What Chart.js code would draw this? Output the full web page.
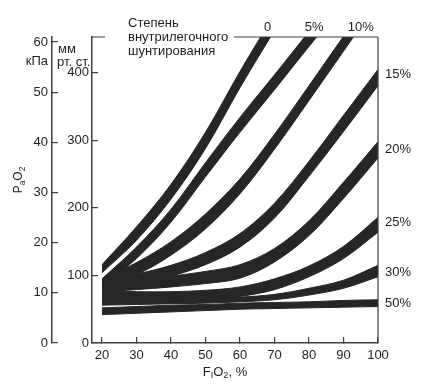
<!DOCTYPE html>
<html>
<head>
<meta charset="utf-8">
<script src="https://cdn.jsdelivr.net/npm/chart.js@4.4.1/dist/chart.umd.min.js"></script>
<style>
  html, body { margin: 0; padding: 0; background: #fff; }
  #wrap { width: 428px; height: 388px; }
</style>
</head>
<body>
<div id="wrap"><canvas id="shuntChart" width="428" height="388"></canvas></div>
<script>
// FiO2, % (x axis)
const fio2 = [20, 30, 40, 50, 60, 70, 80, 90, 100];

// PaO2 bands, mm Hg: upper and lower edge for every shunt fraction
const upper0  = [116, 172, 235, 312, 402, 487];
const lower0  = [104, 152, 213, 288, 378, 463];
const upper5  = [ 95, 142, 198, 267, 334, 397, 461, 524];
const lower5  = [ 84, 125, 179, 246, 312, 375, 439, 502];
const upper10 = [ 94, 119, 150, 191, 243, 309, 381, 454, 527];
const lower10 = [ 82, 101, 130, 169, 221, 287, 359, 432, 505];
const upper15 = [ 92, 102, 115, 134, 162, 207, 269, 337, 405];
const lower15 = [ 80,  88,  99, 116, 142, 185, 247, 313, 381];
const upper20 = [ 90,  93,  99, 106, 116, 140, 181, 238, 298];
const lower20 = [ 76,  79,  83,  88,  96, 120, 159, 214, 274];
const upper25 = [ 78,  76,  76,  78,  83,  95, 114, 143, 186];
const lower25 = [ 64,  62,  62,  64,  69,  79,  98, 125, 164];
const upper30 = [ 67,  66,  66,  67,  68,  72,  81,  93, 115];
const lower30 = [ 56,  57,  58,  59,  61,  64,  71,  81,  98];
const upper50 = [ 52,  54,  56,  57,  59,  60,  61,  63,  64];
const lower50 = [ 42,  44,  46,  48,  50,  51,  52,  53,  54];

const shuntNames = ['0', '5%', '10%', '15%', '20%', '25%', '30%', '50%'];
// where each name sits: FiO2 for the ones on top, PaO2 for the ones on the right
const topLabelAt = [68, 81.5, 95];
const sideLabelAt = [397, 286, 178, 105, 58];

const mmTicks = [0, 100, 200, 300, 400];
const kpaTicks = [0, 10, 20, 30, 40, 50, 60];
const fio2Ticks = [20, 30, 40, 50, 60, 70, 80, 90, 100];

const bandUpper = [upper0, upper5, upper10, upper15, upper20, upper25, upper30, upper50];
const bandLower = [lower0, lower5, lower10, lower15, lower20, lower25, lower30, lower50];

const ink = '#262626';
const axisColor = '#3a3f4a';
const FONT = 'Liberation Sans, Arial, sans-serif';

const datasets = [];
bandUpper.forEach((up, i) => {
  const pts = arr => arr.map((v, j) => ({ x: fio2[j], y: v }));
  datasets.push({
    label: shuntNames[i],
    data: pts(up),
    borderColor: ink,
    backgroundColor: ink,
    borderWidth: 1,
    pointRadius: 0,
    tension: 0.35,
    fill: '+1'
  });
  datasets.push({
    label: shuntNames[i] + ' low',
    data: pts(bandLower[i]),
    borderColor: ink,
    borderWidth: 1,
    pointRadius: 0,
    tension: 0.35,
    fill: false
  });
});

// draws text pieces, some of them as subscripts
function drawParts(ctx, parts, x, y, size) {
  let w = 0;
  parts.forEach(([t, sub]) => {
    ctx.font = (sub ? size * 0.7 : size) + 'px ' + FONT;
    w += ctx.measureText(t).width;
  });
  let cx = x - w / 2;
  parts.forEach(([t, sub]) => {
    ctx.font = (sub ? size * 0.7 : size) + 'px ' + FONT;
    ctx.fillText(t, cx, sub ? y + size * 0.3 : y);
    cx += ctx.measureText(t).width;
  });
}

const decor = {
  id: 'decor',
  afterDraw(chart) {
    const { ctx, chartArea: a, scales } = chart;
    ctx.save();
    ctx.fillStyle = '#1e1e1e';
    ctx.textBaseline = 'middle';

    // heading in the gap of the top line
    ctx.font = '13px ' + FONT;
    ctx.textAlign = 'left';
    const hx = a.left + 36;
    ctx.fillText('Степень', hx, a.top - 14);
    ctx.fillText('внутрилегочного', hx, a.top);
    ctx.fillText('шунтирования', hx, a.top + 14);
    const gapEnd = hx + ctx.measureText('внутрилегочного').width + 6;

    ctx.strokeStyle = axisColor;
    ctx.lineWidth = 1.2;
    ctx.beginPath();
    ctx.moveTo(a.left, a.top); ctx.lineTo(a.left + 13, a.top);
    ctx.moveTo(gapEnd, a.top); ctx.lineTo(a.right, a.top);
    ctx.moveTo(a.right, a.top); ctx.lineTo(a.right, a.bottom);
    ctx.stroke();

    // shunt names
    ctx.textAlign = 'center';
    topLabelAt.forEach((f, i) => {
      ctx.fillText(shuntNames[i], scales.x.getPixelForValue(f), a.top - 10);
    });
    ctx.textAlign = 'left';
    sideLabelAt.forEach((p, i) => {
      ctx.fillText(shuntNames[i + 3], a.right + 7, scales.y.getPixelForValue(p));
    });

    // units
    ctx.textAlign = 'right';
    ctx.fillText('кПа', 48, 61);
    ctx.textAlign = 'left';
    ctx.fillText('мм', 58, 49);
    ctx.fillText('рт. ст.', 57, 62);

    // axis titles
    ctx.textAlign = 'left';
    drawParts(ctx, [['F', false], ['I', true], ['O', false], ['2', true], [', %', false]], 225, 372, 13);
    ctx.translate(19, 180);
    ctx.rotate(-Math.PI / 2);
    drawParts(ctx, [['P', false], ['a', true], ['O', false], ['2', true]], 0, 0, 12);
    ctx.restore();
  }
};

const tickStyle = { color: '#1e1e1e', font: { family: FONT, size: 13 } };

new Chart(document.getElementById('shuntChart'), {
  type: 'line',
  data: { datasets },
  plugins: [decor],
  options: {
    responsive: false,
    animation: false,
    devicePixelRatio: 1,
    layout: { padding: { top: 37, right: 50, bottom: 0, left: 0 } },
    plugins: { legend: { display: false }, tooltip: { enabled: false } },
    scales: {
      x: {
        type: 'linear',
        min: 17.1,
        max: 100,
        afterFit: s => { s.height = 45; },
        afterBuildTicks: s => { s.ticks = fio2Ticks.map(v => ({ value: v })); },
        ticks: { ...tickStyle, padding: 11, maxRotation: 0 },
        grid: { drawOnChartArea: false, tickLength: -6, color: axisColor, lineWidth: 1.2 },
        border: { color: axisColor, width: 1.5 }
      },
      y: {
        type: 'linear',
        position: 'left',
        weight: 0,
        min: 0,
        max: 453,
        afterFit: s => { s.width = 40; },
        afterBuildTicks: s => { s.ticks = mmTicks.map(v => ({ value: v })); },
        ticks: { ...tickStyle, padding: 9 },
        grid: { drawOnChartArea: false, tickLength: -6, color: axisColor, lineWidth: 1.2 },
        border: { color: axisColor, width: 1.5 }
      },
      kpa: {
        type: 'linear',
        position: 'left',
        weight: 1,
        min: 0,
        max: 61,
        afterFit: s => { s.width = 52; },
        afterBuildTicks: s => { s.ticks = kpaTicks.map(v => ({ value: v })); },
        ticks: { ...tickStyle, padding: 10 },
        grid: { drawOnChartArea: false, tickLength: -6, color: axisColor, lineWidth: 1.2 },
        border: { color: axisColor, width: 1.5 }
      }
    }
  }
});
</script>
</body>
</html>
